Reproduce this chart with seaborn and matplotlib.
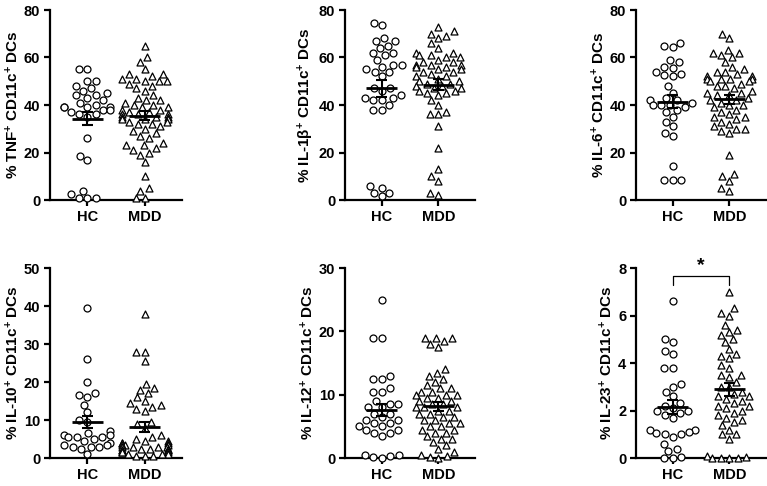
import numpy as np
import pandas as pd
import matplotlib
matplotlib.use("Agg")
import matplotlib.pyplot as plt
import seaborn as sns

groups = ["HC", "MDD"]

tnf_hc = [55, 55, 50, 50, 48, 47, 46, 45, 44, 44, 43, 42, 41, 40, 39, 39, 39, 39, 38, 38,
          37, 36, 36, 35, 26, 18.5, 17, 4, 2.5, 1, 1, 1]
tnf_mdd = [65, 60, 58, 55, 53, 53, 52, 51, 51, 50, 50, 50, 49, 48, 47, 46, 44, 43, 42, 42,
           41, 40, 40, 39, 39, 38, 38, 37, 37, 36, 36, 36, 35, 35, 35, 34, 34, 34, 33, 33,
           32, 32, 31, 30, 29, 28, 27, 26, 24, 23, 23, 22, 21, 20, 19, 16, 10, 5, 4, 1, 1]
il1b_hc = [74.5, 73.5, 68, 67, 67, 65, 64, 62, 62, 61, 59, 57, 57, 56, 55, 54, 54, 52, 47, 47,
           46, 44, 43, 43, 42, 42, 40, 38, 38, 6, 5, 3, 3, 1.5]
il1b_mdd = [73, 71, 70, 69, 68, 66, 64, 62, 62, 61, 61, 60, 60, 59, 58, 58, 57, 57, 57, 56,
            56, 55, 55, 54, 54, 53, 52, 52, 51, 50, 50, 49, 49, 48, 48, 47, 47, 46, 46, 45,
            45, 44, 42, 40, 37, 36, 36, 31, 22, 13, 10, 8, 3, 2]
il6_hc = [66, 65, 64.5, 59, 58, 56, 55.5, 54, 53, 52.5, 52, 48, 45, 43, 42, 42, 41, 40, 40, 40,
          39, 38, 37, 35, 33, 31, 28, 27, 14.5, 8.5, 8.5, 8.5]
il6_mdd = [70, 68, 63, 62, 62, 61, 60, 58, 56, 55, 54, 54, 53, 52, 52, 51, 51, 51, 51, 50,
           50, 49, 48, 48, 47, 46, 45, 45, 44, 44, 43, 42, 42, 41, 40, 40, 39, 38, 37, 36,
           35, 35, 34, 33, 32, 31, 30, 30, 29, 28, 19, 11, 10, 8, 5, 4]
il10_hc = [39.5, 26, 20, 17, 16.5, 16, 14, 12, 10, 9.5, 7, 6.5, 6, 6, 5.5, 5.5, 5.5, 5, 4.5, 4,
           3.5, 3.5, 3, 3, 3, 2.5, 1]
il10_mdd = [38, 28, 28, 25.5, 19.5, 18.5, 18, 17, 16, 15, 14.5, 14, 13.5, 13, 12.5, 9.5, 9, 8,
            6, 5.5, 5, 4.5, 4.5, 4, 4, 4, 3.5, 3.5, 3.5, 3, 3, 3, 3, 2.5, 2.5, 2.5, 2, 2, 2, 2,
            1.5, 1.5, 1.5, 1, 1, 1, 0.5, 0.5, 0.5]
il12_hc = [25, 19, 19, 13, 12.5, 12.5, 11, 10.5, 10.5, 9, 8.5, 8.5, 8, 8, 7, 7, 6.5, 6, 6, 5.5,
           5.5, 5, 5, 4.5, 4.5, 4, 4, 3.5, 0.5, 0.5, 0.3, 0.2, 0]
il12_mdd = [19, 19, 19, 18.5, 18, 17.5, 14, 13.5, 13, 12.5, 12, 11.5, 11, 11, 10.5, 10.5, 10, 10,
            10, 9.5, 9.5, 9, 9, 8.5, 8.5, 8, 8, 8, 7.5, 7.5, 7, 7, 6.5, 6.5, 6, 6, 5.5, 5.5, 5,
            5, 4.5, 4.5, 4, 4, 3.5, 3, 3, 2.5, 2, 1.5, 1, 0.5, 0.3, 0.2, 0]
il23_hc = [6.6, 5.0, 4.9, 4.5, 4.4, 3.8, 3.8, 3.1, 3.0, 2.8, 2.6, 2.3, 2.2, 2.1, 2.0, 2.0, 1.9,
           1.8, 1.7, 1.2, 1.2, 1.1, 1.05, 1.0, 1.0, 0.9, 0.6, 0.4, 0.3, 0.05, 0.0, 0.0]
il23_mdd = [7.0, 6.3, 6.1, 6.0, 5.6, 5.4, 5.3, 5.2, 5.0, 4.9, 4.6, 4.4, 4.3, 4.2, 3.9, 3.8, 3.5,
            3.5, 3.4, 3.2, 3.0, 3.0, 2.8, 2.7, 2.6, 2.6, 2.5, 2.4, 2.3, 2.2, 2.2, 2.1, 2.0, 1.9,
            1.8, 1.7, 1.6, 1.5, 1.4, 1.2, 1.0, 1.0, 0.8, 0.1, 0.05, 0.0, 0.0, 0.0, 0.0]

panels = [
    ("TNF", tnf_hc, tnf_mdd, 80, [0, 20, 40, 60, 80]),
    ("IL-1\u03b2", il1b_hc, il1b_mdd, 80, [0, 20, 40, 60, 80]),
    ("IL-6", il6_hc, il6_mdd, 80, [0, 20, 40, 60, 80]),
    ("IL-10", il10_hc, il10_mdd, 50, [0, 10, 20, 30, 40, 50]),
    ("IL-12", il12_hc, il12_mdd, 30, [0, 10, 20, 30]),
    ("IL-23", il23_hc, il23_mdd, 8, [0, 2, 4, 6, 8]),
]

sns.set_style("ticks", {"text.color": "black", "axes.labelcolor": "black",
                        "xtick.color": "black", "ytick.color": "black",
                        "axes.edgecolor": "black"})
plt.rcParams["font.family"] = ["Liberation Sans", "DejaVu Sans"]
plt.rcParams["font.weight"] = "bold"
plt.rcParams["mathtext.default"] = "bf"
plt.rcParams["mathtext.fontset"] = "custom"
plt.rcParams["mathtext.bf"] = "Liberation Sans:bold"

fig = plt.figure(figsize=(7.67, 4.86), dpi=100)
lefts = [50 / 767, 345 / 767, 636 / 767]
widths = [132 / 767, 130 / 767, 130 / 767]
bottoms = [1 - 200 / 486, 1 - 458 / 486]
height = 190 / 486

for i, (name, hc, mdd, ymax, ticks) in enumerate(panels):
    r, c = divmod(i, 3)
    ax = fig.add_axes([lefts[c], bottoms[r], widths[c], height])
    df = pd.DataFrame({"group": ["HC"] * len(hc) + ["MDD"] * len(mdd),
                       "value": list(hc) + list(mdd)})
    msize = 5.0
    sns.swarmplot(data=df[df.group == "HC"], x="group", y="value", order=groups,
                  marker="o", color="white", edgecolor="black", linewidth=0.9,
                  size=msize, ax=ax, clip_on=False, zorder=3)
    sns.swarmplot(data=df[df.group == "MDD"], x="group", y="value", order=groups,
                  marker="^", color="white", edgecolor="black", linewidth=0.9,
                  size=msize, ax=ax, clip_on=False, zorder=3)
    for k, vals in enumerate([hc, mdd]):
        v = np.asarray(vals, dtype=float)
        m = v.mean()
        se = v.std(ddof=1) / np.sqrt(len(v))
        ax.hlines(m, k - 0.27, k + 0.27, color="black", lw=2, zorder=5)
        ax.vlines(k, m - se, m + se, color="black", lw=1.5, zorder=5)
        ax.hlines([m - se, m + se], k - 0.1, k + 0.1, color="black", lw=1.5, zorder=5)
    ax.set_xlim(-0.65, 1.65)
    ax.set_ylim(0, ymax)
    ax.set_yticks(ticks)
    ax.set_xlabel("")
    ax.set_ylabel("% " + name + r"$^{+}$ CD11c$^{+}$ DCs", fontsize=11, fontweight="bold",
                  labelpad=2, color="black")
    sns.despine(ax=ax)
    for s in ["left", "bottom"]:
        ax.spines[s].set_linewidth(1.6)
        ax.spines[s].set_color("black")
    ax.tick_params(axis="both", width=1.6, length=4.5, labelsize=10.5, pad=2.5,
                   color="black", labelcolor="black")
    for lab in ax.get_xticklabels() + ax.get_yticklabels():
        lab.set_fontweight("bold")
    if name == "IL-23":
        ax.plot([0, 0, 1, 1], [7.27, 7.66, 7.66, 7.27], color="black", lw=0.9, clip_on=False)
        ax.text(0.5, 7.75, "*", ha="center", va="bottom", fontsize=14, fontweight="bold",
                color="black")

fig.savefig("out.png", dpi=100)
